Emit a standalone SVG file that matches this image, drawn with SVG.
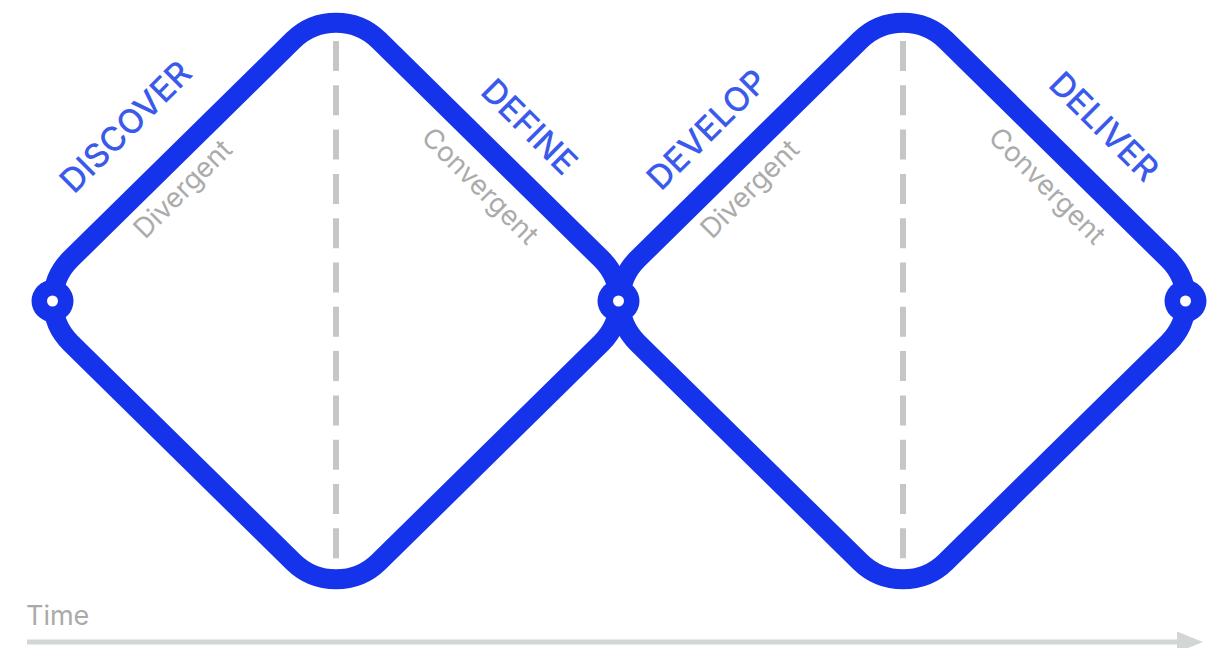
<svg xmlns="http://www.w3.org/2000/svg" width="1217" height="648" viewBox="0 0 1217 648">
  <style>
    .diamond { fill: none; stroke: #1533EA; stroke-width: 20; }
    .divider { stroke: #C6C6C6; stroke-width: 6; stroke-dasharray: 30 14.3; fill: none; }
    .node-outer { fill: #1533EA; }
    .node-inner { fill: #FFFFFF; }
    .phase { font-family: Inter, "Liberation Sans", Arial, sans-serif; font-weight: 500; font-size: 33.5px; fill: #3A5AEC; }
    .mode { font-family: Inter, "Liberation Sans", Arial, sans-serif; font-size: 27.5px; fill: #ABABAB; }
    .time-label { font-family: Inter, "Liberation Sans", Arial, sans-serif; font-size: 27px; fill: #AAAAAA; }
    .time-line { stroke: #D3D6D6; stroke-width: 5; fill: none; }
  </style>
  <defs>
    <path id="diamondShape" d="M70.77,258.92 L293.23,40.08 C316.84,16.85 355.16,16.85 378.77,40.08 L601.23,258.92 C624.84,282.15 624.84,319.85 601.23,343.08 L378.77,561.92 C355.16,585.15 316.84,585.15 293.23,561.92 L70.77,343.08 C47.16,319.85 47.16,282.15 70.77,258.92 Z"/>
    <marker id="timeArrow" viewBox="0 0 26 21" refX="2" refY="10.5" markerWidth="26" markerHeight="21" markerUnits="userSpaceOnUse" orient="auto">
      <path d="M0,0 L26,10.5 L0,21 Z" fill="#D3D6D6"/>
    </marker>
  </defs>

  <g id="connectors">
    <use id="diamond-1" href="#diamondShape" class="diamond"/>
    <use id="diamond-2" href="#diamondShape" class="diamond" transform="translate(567,0)"/>
    <line id="divider-1" class="divider" x1="336" y1="41" x2="336" y2="559"/>
    <line id="divider-2" class="divider" x1="903" y1="41" x2="903" y2="559"/>
    <line id="time-axis" class="time-line" x1="27" y1="642" x2="1179" y2="642" marker-end="url(#timeArrow)"/>
  </g>

  <g id="node-start">
    <circle class="node-outer" cx="52.5" cy="301" r="21"/>
    <circle class="node-inner" cx="52.5" cy="301" r="5.5"/>
  </g>
  <g id="node-middle">
    <circle class="node-outer" cx="618.5" cy="301" r="21"/>
    <circle class="node-inner" cx="618.5" cy="301" r="5.5"/>
  </g>
  <g id="node-end">
    <circle class="node-outer" cx="1185.5" cy="301" r="21"/>
    <circle class="node-inner" cx="1185.5" cy="301" r="5.5"/>
  </g>

  <g id="labels">
    <text class="phase" transform="translate(74,195) rotate(-45)">DISCOVER</text>
    <text class="phase" transform="translate(479,93) rotate(45)">DEFINE</text>
    <text class="phase" transform="translate(661,192) rotate(-45)">DEVELOP</text>
    <text class="phase" transform="translate(1047,86) rotate(45)">DELIVER</text>
    <text class="mode" transform="translate(145,240) rotate(-45)">Divergent</text>
    <text class="mode" transform="translate(420,139) rotate(45)">Convergent</text>
    <text class="mode" transform="translate(712,240) rotate(-45)">Divergent</text>
    <text class="mode" transform="translate(987,139) rotate(45)">Convergent</text>
    <text class="time-label" x="26" y="625">Time</text>
  </g>
</svg>
